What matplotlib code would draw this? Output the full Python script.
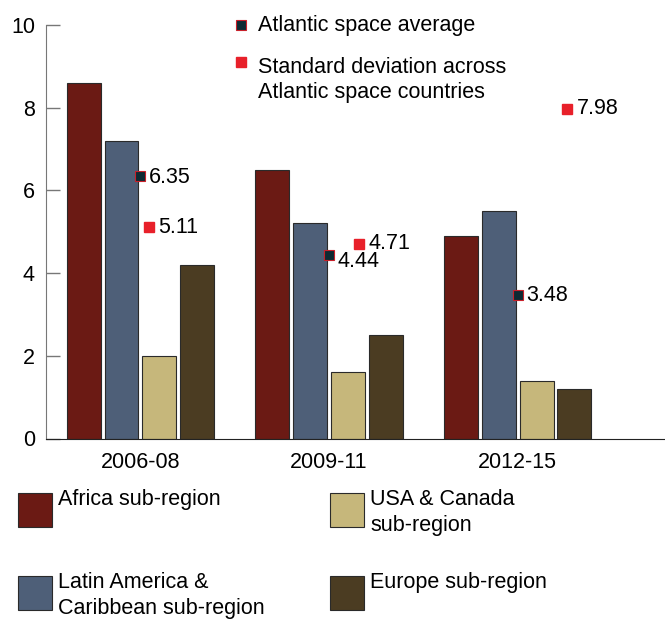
import numpy as np
import matplotlib.pyplot as plt
from matplotlib.patches import Rectangle
from matplotlib.lines import Line2D

plt.rcParams['font.family'] = ['Liberation Sans', 'DejaVu Sans']

periods = ['2006-08', '2009-11', '2012-15']
regions = ['Africa sub-region', 'Latin America &\nCaribbean sub-region',
           'USA & Canada\nsub-region', 'Europe sub-region']
africa = [8.6, 6.5, 4.9]
latin = [7.2, 5.2, 5.5]
usa = [2.0, 1.6, 1.4]
europe = [4.2, 2.5, 1.2]
average = [6.35, 4.44, 3.48]
std_dev = [5.11, 4.71, 7.98]

colors = ['#6b1a14', '#4e5f78', '#c6b77b', '#4b3c22']
avg_color = '#0d2a33'
std_color = '#e8202a'
fs = 15.5

# horizontal placement of the std markers (they drift right in the original)
std_shift = [0.045, 0.157, 0.26]

fig = plt.figure(figsize=(6.65, 6.22), dpi=100)
ax = fig.add_axes([46 / 665, (622 - 438.5) / 622, 1 - 46 / 665, (438.5 - 25) / 622])

x = np.arange(len(periods))
step = 0.2
width = 0.18
series = [africa, latin, usa, europe]
for i, vals in enumerate(series):
    ax.bar(x + (i - 1.5) * step, vals, width, color=colors[i],
           edgecolor='#2a2a2a', linewidth=0.8, zorder=2)

ax.plot(x, average, 's', ms=7, mfc=avg_color, mec='#c8202a', mew=0.8, zorder=3)
ax.plot(x + np.array(std_shift), std_dev, 's', ms=6.5, mfc=std_color, mec=std_color, zorder=3)

avg_offsets = [(6, -1), (6, -5), (6, -1)]
for xi, v, off in zip(x, average, avg_offsets):
    ax.annotate(f'{v:.2f}', (xi, v), xytext=off, textcoords='offset points',
                ha='left', va='center', fontsize=fs)
for xi, s, v in zip(x, std_shift, std_dev):
    ax.annotate(f'{v:.2f}', (xi + s, v), xytext=(7, 0), textcoords='offset points',
                ha='left', va='center', fontsize=fs)

ax.set_xlim(-0.5, 2.78)
ax.set_ylim(0, 10)
ax.set_yticks(range(0, 11, 2))
ax.set_xticks(x)
ax.set_xticklabels(periods)
ax.tick_params(axis='y', direction='in', length=10, width=1, color='#777777',
               labelsize=fs, pad=8)
ax.tick_params(axis='x', length=0, labelsize=fs, pad=10)
for side in ['top', 'right']:
    ax.spines[side].set_visible(False)
ax.spines['left'].set_color('#777777')
ax.spines['bottom'].set_color('#222222')

# top legend for the markers
fig.lines.append(Line2D([241 / 665], [1 - 25 / 622], marker='s', ms=7, mfc=avg_color,
                        mec='#c8202a', mew=0.8, transform=fig.transFigure))
fig.text(258 / 665, 1 - 26 / 622, 'Atlantic space average', fontsize=fs, va='center')
fig.lines.append(Line2D([241 / 665], [1 - 62 / 622], marker='s', ms=6.5, mfc=std_color,
                        mec=std_color, transform=fig.transFigure))
fig.text(258 / 665, 1 - 80 / 622, 'Standard deviation across\nAtlantic space countries',
         fontsize=fs, va='center', linespacing=1.3)

# bottom legend for the bars
legend_pos = [(18, 493), (18, 576), (330, 493), (330, 576)]
for (px, py), lab, c in zip(legend_pos, regions, colors):
    fig.patches.append(Rectangle((px / 665, 1 - (py + 34) / 622), 34 / 665, 34 / 622,
                                 facecolor=c, edgecolor='#2a2a2a', linewidth=0.8,
                                 transform=fig.transFigure))
    fig.text((px + 40) / 665, 1 - (py - 4) / 622, lab, fontsize=fs, va='top',
             linespacing=1.3)

fig.savefig('out.png', dpi=100)
